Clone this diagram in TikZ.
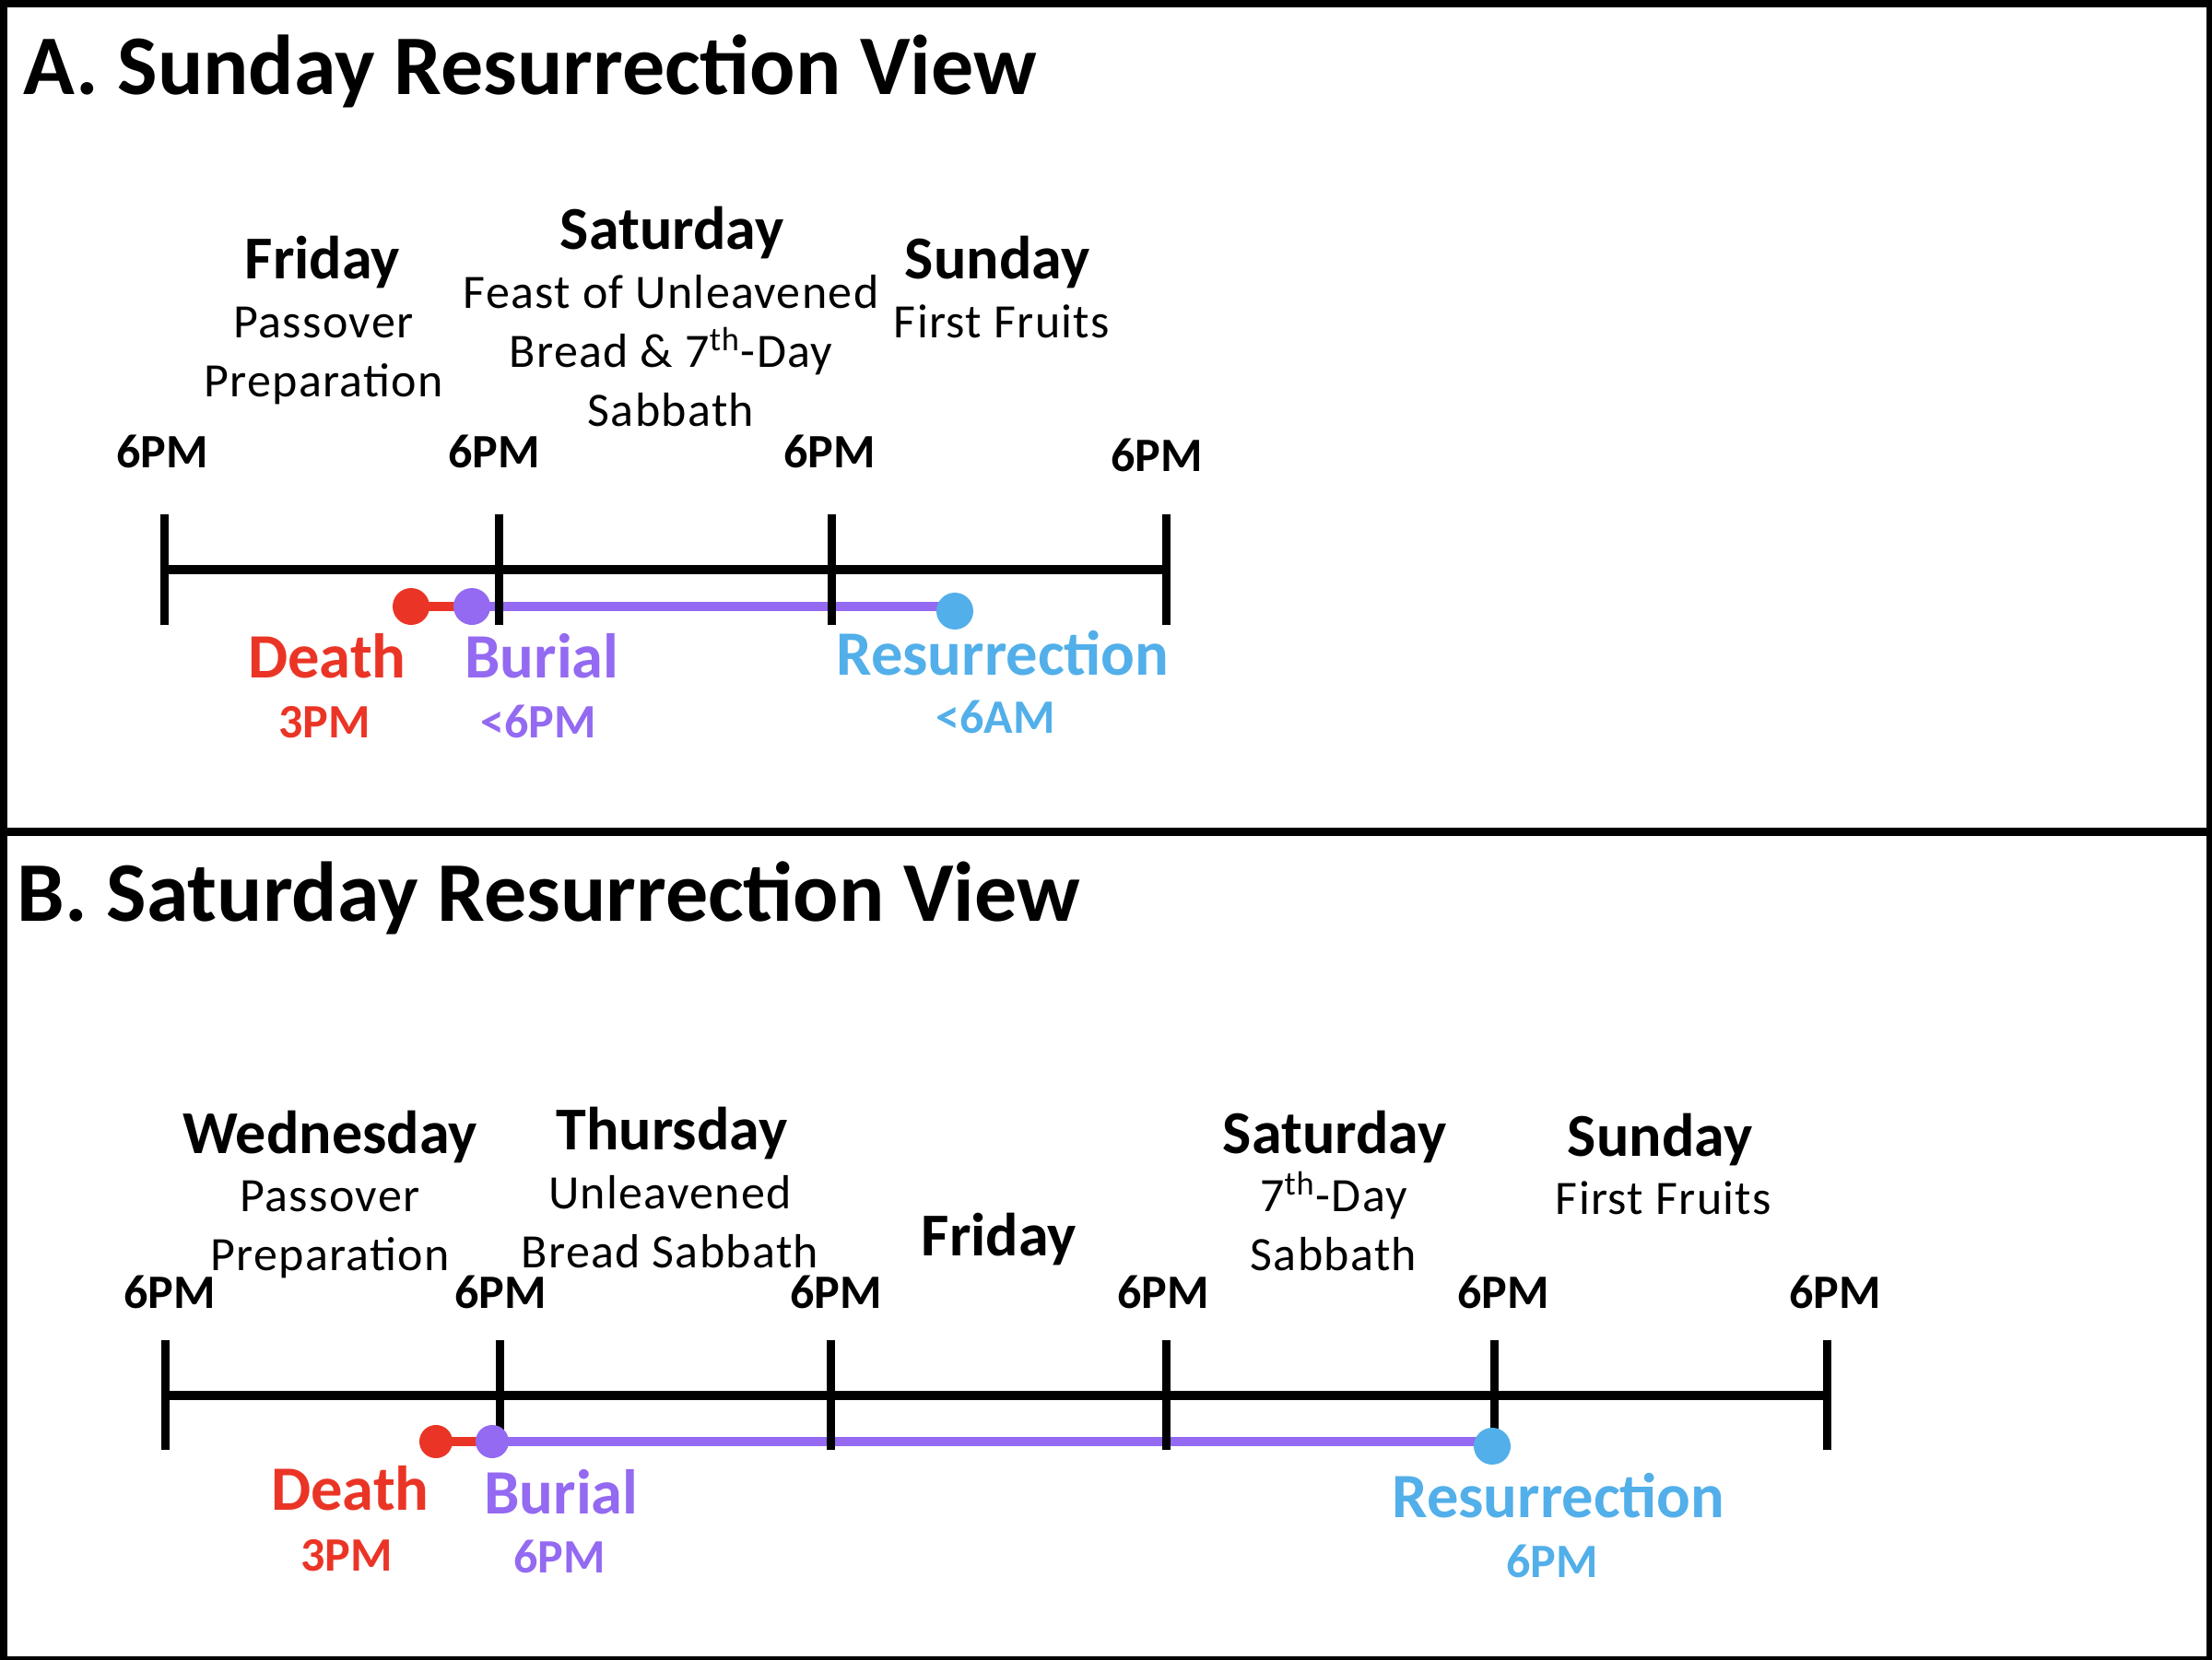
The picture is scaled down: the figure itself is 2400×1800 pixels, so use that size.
\documentclass[tikz,border=0pt]{standalone}
\usepackage{fontspec}
\setmainfont{Carlito}
\newfontfamily\notefont[LetterSpace=2.5]{Carlito}
\usetikzlibrary{positioning, backgrounds}
\definecolor{deathred}{RGB}{234,53,38}
\definecolor{burialpurple}{RGB}{147,106,241}
\definecolor{riseblue}{RGB}{82,175,233}
\tikzset{
    paneltitle/.style={anchor=base west, inner sep=0pt, font=\fontsize{26.2}{31}\selectfont\bfseries},
    dayname/.style={anchor=base, inner sep=0pt, font=\fontsize{18.8}{22}\selectfont\bfseries},
    daynote/.style={anchor=base, inner sep=0pt, align=center, font=\notefont\fontsize{14.8}{18.07}\selectfont},
    hour/.style={anchor=base, inner sep=0pt, font=\fontsize{14.8}{18}\selectfont\bfseries},
    event/.style={anchor=base, inner sep=0pt, font=\fontsize{19.5}{22}\selectfont\bfseries},
    eventtime/.style={anchor=base, inner sep=0pt, font=\fontsize{14.8}{17}\selectfont\bfseries},
    dot/.style={circle, fill, inner sep=0pt, minimum size=4mm},
    smalldot/.style={dot, minimum size=3.6mm},
    axis/.style={line width=2.85pt},
    tickmark/.style={line width=2.56pt},
    span/.style={line width=2.85pt},
    panel/.style={draw, line width=2.56pt}
}
\begin{document}
\begin{tikzpicture}[x=0.1mm, y=-0.1mm]
\useasboundingbox (0,0) rectangle (2400,1800);
\draw[panel] (4,4) rectangle (2398,902);
\draw[panel] (4,902) rectangle (2398,1801);

% A. Sunday view
\node[paneltitle] (titleA) at (25,103) {A. Sunday Resurrection View};

\node[dayname] (friA) at (350,303) {Friday};
\node[daynote] (friAnote) at (351,430) {Passover\\Preparation};
\node[dayname] (satA) at (729,271) {Saturday};
\node[daynote] (satAnote) at (728,462) {Feast of Unleavened\\Bread \& 7\textsuperscript{th}-Day\\Sabbath};
\node[dayname] (sunA) at (1082,303) {Sunday};
\node[daynote] (sunAnote) at (1087,367) {First Fruits};

\foreach \x/\y [count=\i] in {176/508, 536/508, 900/508, 1255/511}
    \node[hour] (hourA\i) at (\x,\y) {6PM};

\foreach \x [count=\i] in {178, 541, 902, 1265} {
    \coordinate (a\i) at (\x,618);
    \draw[tickmark] (\x,558) -- (\x,678);
}
\draw[axis] (a1) -- (a4);

\node[dot, deathred] (deathA) at (446,658) {};
\node[dot, burialpurple] (burialA) at (512,658) {};
\node[dot, riseblue] (riseA) at (1036,663) {};
\begin{scope}[on background layer]
\draw[span, deathred] (deathA.center) -- (burialA.center);
\draw[span, burialpurple] (burialA.center) -- (burialA.center -| riseA.center);
\end{scope}

\node[event, deathred] (deathAlabel) at (355,735) {Death};
\node[eventtime, deathred] (deathAtime) at (352,800) {3PM};
\node[event, burialpurple] (burialAlabel) at (588,735) {Burial};
\node[eventtime, burialpurple] (burialAtime) at (584,800) {<6PM};
\node[event, riseblue] (riseAlabel) at (1088,732) {Resurrection};
\node[eventtime, riseblue] (riseAtime) at (1080,795) {<6AM};

% B. Saturday view
\node[paneltitle] (titleB) at (18,999) {B. Saturday Resurrection View};

\node[dayname] (wedB) at (358,1251) {Wednesday};
\node[daynote] (wedBnote) at (358,1378) {Passover\\Preparation};
\node[dayname] (thuB) at (729,1247) {Thursday};
\node[daynote] (thuBnote) at (727,1375) {Unleavened\\Bread Sabbath};
\node[dayname] (friB) at (1084,1362) {Friday};
\node[dayname] (satB) at (1448,1251) {Saturday};
\node[daynote] (satBnote) at (1447,1378) {7\textsuperscript{th}-Day\\Sabbath};
\node[dayname] (sunB) at (1801,1254) {Sunday};
\node[daynote] (sunBnote) at (1805,1317) {First Fruits};

\foreach \x [count=\i] in {184, 543, 907, 1262, 1631, 1991}
    \node[hour] (hourB\i) at (\x,1419) {6PM};

\foreach \x [count=\i] in {179, 542, 901, 1265, 1621, 1982} {
    \coordinate (b\i) at (\x,1514);
    \draw[tickmark] (\x,1454) -- (\x,1573);
}
\draw[axis] (b1) -- (b6);

\node[smalldot, deathred] (deathB) at (473,1564) {};
\node[smalldot, burialpurple] (burialB) at (534,1564) {};
\node[dot, riseblue] (riseB) at (1619,1569) {};
\begin{scope}[on background layer]
\draw[span, deathred] (deathB.center) -- (burialB.center);
\draw[span, burialpurple] (burialB.center) -- (burialB.center -| riseB.center);
\end{scope}

\node[event, deathred] (deathBlabel) at (380,1638) {Death};
\node[eventtime, deathred] (deathBtime) at (376,1704) {3PM};
\node[event, burialpurple] (burialBlabel) at (609,1642) {Burial};
\node[eventtime, burialpurple] (burialBtime) at (607,1706) {6PM};
\node[event, riseblue] (riseBlabel) at (1691,1646) {Resurrection};
\node[eventtime, riseblue] (riseBtime) at (1684,1711) {6PM};
\end{tikzpicture}
\end{document}
